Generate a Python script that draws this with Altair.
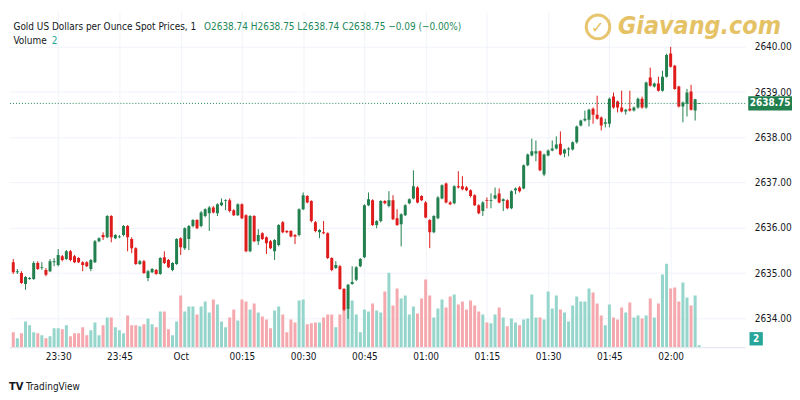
import altair as alt
import pandas as pd

# ---------------- data (1-minute candles, first candle 23:19) ----------------
start_hour, start_min = 23, 19

opens = [
    2635.24, 2635.02, 2635.00, 2634.76, 2634.87, 2634.87, 2635.22, 2635.11, 2635.07, 2635.04,
    2635.24, 2635.18, 2635.37, 2635.31, 2635.48, 2635.37, 2635.33, 2635.24, 2635.24, 2635.09,
    2635.24, 2635.70, 2635.84, 2635.79, 2636.26, 2635.77, 2635.79, 2635.84, 2636.04, 2635.75,
    2635.55, 2635.20, 2635.26, 2634.89, 2635.02, 2635.07, 2634.98, 2635.35, 2635.29, 2635.07,
    2635.20, 2635.77, 2635.55, 2635.75, 2636.04, 2636.17, 2636.04, 2636.26, 2636.32, 2636.45,
    2636.32, 2636.50, 2636.59, 2636.61, 2636.39, 2636.28, 2636.52, 2636.28, 2635.48, 2636.26,
    2635.70, 2635.88, 2635.79, 2635.70, 2635.48, 2635.62, 2636.12, 2635.93, 2635.93, 2635.84,
    2635.84, 2636.41, 2636.70, 2636.59, 2636.12, 2635.90, 2635.90, 2635.88, 2635.33, 2635.11,
    2635.15, 2634.65, 2634.21, 2634.76, 2634.85, 2635.15, 2635.35, 2636.50, 2636.61, 2636.06,
    2636.15, 2636.59, 2636.48, 2636.61, 2636.21, 2636.08, 2636.28, 2636.54, 2636.65, 2636.89,
    2636.70, 2636.56, 2636.17, 2635.90, 2636.21, 2636.65, 2636.98, 2636.56, 2636.54, 2636.92,
    2636.92, 2636.89, 2636.83, 2636.72, 2636.50, 2636.37, 2636.61, 2636.59, 2636.65, 2636.76,
    2636.59, 2636.61, 2636.43, 2636.83, 2636.89, 2636.87, 2637.38, 2637.60, 2637.64, 2637.69,
    2637.18, 2637.60, 2637.71, 2637.75, 2637.86, 2637.64, 2637.73, 2637.73, 2637.89, 2638.26,
    2638.37, 2638.39, 2638.63, 2638.50, 2638.44, 2638.30, 2638.30, 2638.90, 2638.79, 2638.66,
    2638.57, 2638.63, 2638.59, 2638.66, 2638.85, 2638.66, 2639.32, 2639.12, 2639.19, 2639.03,
    2639.34, 2639.85, 2639.58, 2639.12, 2638.68, 2638.74, 2639.01, 2638.59, 2638.74,
]
highs = [
    2635.31, 2635.09, 2635.04, 2634.93, 2634.91, 2635.26, 2635.26, 2635.24, 2635.11, 2635.31,
    2635.33, 2635.53, 2635.40, 2635.51, 2635.51, 2635.40, 2635.35, 2635.26, 2635.26, 2635.31,
    2635.73, 2635.79, 2635.90, 2636.28, 2636.28, 2635.86, 2635.84, 2636.06, 2636.06, 2635.79,
    2635.57, 2635.29, 2635.29, 2635.07, 2635.11, 2635.09, 2635.35, 2635.48, 2635.31, 2635.24,
    2635.77, 2635.79, 2636.01, 2636.06, 2636.19, 2636.19, 2636.37, 2636.43, 2636.48, 2636.48,
    2636.54, 2636.65, 2636.63, 2636.65, 2636.41, 2636.54, 2636.54, 2636.30, 2636.28, 2636.28,
    2635.97, 2635.90, 2635.81, 2635.73, 2635.75, 2636.08, 2636.15, 2635.95, 2635.95, 2635.86,
    2636.43, 2636.78, 2636.72, 2636.61, 2636.15, 2635.97, 2636.15, 2635.90, 2635.35, 2635.26,
    2635.18, 2634.67, 2634.76, 2635.15, 2635.15, 2635.33, 2636.52, 2636.78, 2636.63, 2636.17,
    2636.61, 2636.61, 2636.81, 2636.72, 2636.41, 2636.32, 2636.52, 2636.65, 2637.27, 2636.92,
    2636.72, 2636.59, 2636.19, 2636.28, 2636.70, 2636.96, 2637.00, 2636.59, 2636.94, 2637.25,
    2637.14, 2636.92, 2636.85, 2636.74, 2636.52, 2636.59, 2636.67, 2636.76, 2636.89, 2636.87,
    2636.65, 2636.63, 2636.83, 2636.89, 2636.92, 2637.40, 2637.64, 2637.97, 2637.93, 2637.71,
    2637.64, 2637.73, 2637.93, 2638.02, 2638.13, 2637.75, 2637.78, 2637.91, 2638.26, 2638.39,
    2638.59, 2638.63, 2638.66, 2638.92, 2638.46, 2638.41, 2638.88, 2638.99, 2638.81, 2639.03,
    2638.63, 2639.03, 2638.68, 2638.88, 2638.90, 2639.23, 2639.54, 2639.21, 2639.34, 2639.47,
    2639.85, 2640.00, 2639.60, 2639.14, 2638.79, 2639.07, 2639.16, 2638.85, 2638.75,
]
lows = [
    2634.98, 2634.98, 2634.76, 2634.63, 2634.85, 2634.85, 2635.07, 2635.07, 2634.93, 2635.02,
    2635.15, 2635.15, 2635.26, 2635.29, 2635.26, 2635.22, 2635.22, 2635.04, 2635.13, 2635.04,
    2635.22, 2635.68, 2635.73, 2635.77, 2635.68, 2635.75, 2635.77, 2635.81, 2635.48, 2635.44,
    2635.18, 2635.18, 2634.98, 2634.82, 2635.00, 2634.96, 2634.96, 2635.20, 2635.11, 2635.04,
    2635.18, 2635.40, 2635.51, 2635.51, 2636.01, 2635.97, 2636.01, 2636.23, 2635.93, 2636.32,
    2636.26, 2636.48, 2636.39, 2636.34, 2636.26, 2636.26, 2636.19, 2635.46, 2635.46, 2635.68,
    2635.62, 2635.73, 2635.42, 2635.53, 2635.29, 2635.59, 2635.88, 2635.88, 2635.79, 2635.64,
    2635.81, 2636.39, 2636.54, 2636.12, 2635.90, 2635.77, 2635.86, 2635.31, 2635.04, 2635.09,
    2634.63, 2634.16, 2633.99, 2634.74, 2634.82, 2635.13, 2635.33, 2636.48, 2636.04, 2635.99,
    2636.12, 2636.52, 2636.45, 2636.17, 2636.04, 2635.59, 2636.26, 2636.52, 2636.63, 2636.54,
    2636.59, 2636.21, 2635.55, 2635.88, 2636.19, 2636.63, 2636.54, 2636.50, 2636.52, 2636.87,
    2636.83, 2636.81, 2636.67, 2636.48, 2636.30, 2636.26, 2636.43, 2636.43, 2636.63, 2636.54,
    2636.37, 2636.41, 2636.41, 2636.74, 2636.78, 2636.85, 2637.36, 2637.58, 2637.47, 2637.25,
    2637.14, 2637.58, 2637.69, 2637.73, 2637.60, 2637.56, 2637.58, 2637.71, 2637.86, 2638.24,
    2638.35, 2638.24, 2638.30, 2638.39, 2638.15, 2638.22, 2638.22, 2638.63, 2638.55, 2638.55,
    2638.50, 2638.57, 2638.57, 2638.63, 2638.63, 2638.63, 2639.12, 2639.10, 2639.01, 2639.01,
    2639.32, 2639.54, 2639.05, 2638.66, 2638.33, 2638.46, 2638.59, 2638.37, 2638.74,
]
closes = [
    2635.02, 2635.04, 2634.78, 2634.91, 2634.89, 2635.22, 2635.09, 2635.13, 2634.96, 2635.26,
    2635.26, 2635.40, 2635.29, 2635.48, 2635.29, 2635.24, 2635.24, 2635.18, 2635.15, 2635.29,
    2635.70, 2635.77, 2635.79, 2636.26, 2635.79, 2635.84, 2635.81, 2636.04, 2635.79, 2635.55,
    2635.20, 2635.26, 2635.00, 2635.04, 2635.09, 2634.98, 2635.33, 2635.22, 2635.13, 2635.22,
    2635.75, 2635.57, 2635.99, 2636.04, 2636.17, 2635.99, 2636.34, 2636.41, 2636.45, 2636.34,
    2636.52, 2636.56, 2636.61, 2636.37, 2636.28, 2636.52, 2636.21, 2635.48, 2636.26, 2635.70,
    2635.84, 2635.75, 2635.66, 2635.55, 2635.73, 2636.06, 2635.90, 2635.90, 2635.81, 2635.81,
    2636.41, 2636.72, 2636.56, 2636.15, 2635.93, 2635.95, 2635.88, 2635.33, 2635.07, 2635.18,
    2634.65, 2634.19, 2634.74, 2634.80, 2635.13, 2635.31, 2636.50, 2636.63, 2636.06, 2636.15,
    2636.59, 2636.54, 2636.61, 2636.19, 2636.06, 2636.30, 2636.50, 2636.63, 2636.92, 2636.56,
    2636.61, 2636.23, 2635.90, 2636.26, 2636.67, 2636.94, 2636.56, 2636.52, 2636.92, 2636.89,
    2636.85, 2636.83, 2636.70, 2636.50, 2636.32, 2636.56, 2636.59, 2636.61, 2636.72, 2636.56,
    2636.63, 2636.43, 2636.81, 2636.87, 2636.81, 2637.38, 2637.62, 2637.69, 2637.69, 2637.27,
    2637.62, 2637.71, 2637.75, 2637.84, 2637.62, 2637.73, 2637.75, 2637.89, 2638.24, 2638.37,
    2638.41, 2638.61, 2638.50, 2638.41, 2638.26, 2638.33, 2638.85, 2638.66, 2638.66, 2638.57,
    2638.61, 2638.59, 2638.66, 2638.85, 2638.66, 2639.21, 2639.14, 2639.19, 2639.03, 2639.34,
    2639.82, 2639.56, 2639.07, 2638.68, 2638.77, 2638.99, 2638.61, 2638.84, 2638.75,
]
volumes = [
    15, 9, 14, 26, 22, 15, 14, 12, 9, 11, 19, 19, 18, 22, 11, 14, 14, 20, 12, 17,
    25, 12, 22, 30, 30, 20, 17, 14, 32, 22, 22, 21, 23, 29, 23, 20, 36, 36, 18, 12,
    26, 52, 36, 41, 41, 33, 41, 46, 35, 48, 43, 26, 20, 30, 38, 27, 48, 46, 38, 44,
    35, 31, 28, 19, 37, 41, 33, 15, 28, 25, 47, 48, 23, 24, 25, 25, 30, 33, 33, 20,
    33, 38, 40, 47, 33, 15, 38, 36, 44, 37, 35, 56, 75, 42, 59, 49, 52, 33, 41, 34,
    49, 68, 52, 30, 39, 48, 40, 51, 53, 43, 46, 38, 47, 42, 36, 33, 25, 24, 33, 40,
    30, 21, 29, 25, 22, 28, 29, 53, 30, 30, 28, 56, 39, 52, 38, 35, 26, 42, 51, 46,
    46, 59, 55, 44, 32, 22, 43, 30, 28, 40, 35, 45, 30, 32, 29, 32, 49, 30, 44, 73,
    84, 59, 60, 46, 65, 50, 42, 52, 2,
]
tick_labels = ["23:30", "23:45", "Oct", "00:15", "00:30", "00:45", "01:00",
               "01:15", "01:30", "01:45", "02:00"]
price_ticks = [2634, 2635, 2636, 2637, 2638, 2639, 2640]

n = len(opens)
assert len(highs) == n and len(lows) == n and len(closes) == n and len(volumes) == n

# ---------------- styling ----------------
FONT = "DejaVu Sans Condensed, Liberation Sans Narrow, Liberation Sans, sans-serif"
UP, DOWN = "#22804f", "#df1b1b"
VUP, VDOWN = "#95d5cb", "#f5a8ad"
TXT = "#131722"
GRID = "#f0f3fa"
W, H = 740, 337
FS = 10

times = []
for i in range(n):
    m = (start_hour * 60 + start_min + i) % 1440
    times.append(f"{m // 60:02d}:{m % 60:02d}")

df = pd.DataFrame({"i": range(n), "t": times, "o": opens, "h": highs,
                   "l": lows, "c": closes, "v": volumes})
df["up"] = [1 if c >= o else 0 for o, c in zip(opens, closes)]
df["bb"] = df[["o", "c"]].min(axis=1)
df["bt"] = df[["o", "c"]].max(axis=1)
df.loc[df.bt - df.bb < 0.02, "bt"] = df.bb + 0.02

lab_map = {("00:00" if t == "Oct" else t): t for t in tick_labels}
tick_idx = [i for i, t in enumerate(times) if t in lab_map]
label_expr = "".join(f"datum.value == {i} ? '{lab_map[times[i]]}' : " for i in tick_idx) + "''"

x = alt.X("i:Q", scale=alt.Scale(domain=[0.17, 178.05], nice=False, zero=False),
          axis=alt.Axis(values=tick_idx, labelExpr=label_expr, grid=True, gridColor=GRID,
                        ticks=False, domain=True, domainColor="#e0e3eb", labelFont=FONT,
                        labelFontSize=FS, labelColor=TXT, labelPadding=4, title=None,
                        labelFlush=False))
yscale = alt.Scale(domain=[2633.36, 2640.77], nice=False, zero=False)
yaxis = alt.Axis(orient="right", values=price_ticks, format=".2f", grid=True, gridColor=GRID,
                 ticks=False, domain=False, labelPadding=9, labelAlign="left",
                 labelFont=FONT, labelFontSize=FS, labelColor=TXT, title=None)
is_up = alt.datum.up == 1
ccolor = alt.condition(is_up, alt.value(UP), alt.value(DOWN))
vcolor = alt.condition(is_up, alt.value(VUP), alt.value(VDOWN))
vscale = alt.Scale(domain=[0, H])

base = alt.Chart(df)

vol = base.mark_bar(size=3, clip=True).encode(
    x=x, y=alt.Y("v:Q", scale=vscale, axis=None), color=vcolor)

wicks = base.mark_rule(strokeWidth=1, clip=True).encode(
    x=x, y=alt.Y("l:Q", scale=yscale, axis=yaxis), y2="h:Q", color=ccolor)
bodies = base.mark_bar(size=3, clip=True).encode(
    x=x, y=alt.Y("bb:Q", scale=yscale), y2="bt:Q", color=ccolor)

last = df.tail(1)
pline = alt.Chart(last).mark_rule(color=UP, strokeDash=[1, 2], strokeWidth=1).encode(
    y=alt.Y("c:Q", scale=yscale))
tag_shape = "M-1,-0.33L1,-0.33L1,0.33L-1,0.33Z"
tag = alt.Chart(last).mark_point(shape=tag_shape, filled=True, size=1936, opacity=1,
                                 color=UP).encode(
    x=alt.value(765), y=alt.Y("c:Q", scale=yscale))
tag_txt = alt.Chart(last).mark_text(color="white", font=FONT, fontSize=FS,
                                    fontWeight="bold").encode(
    x=alt.value(765), y=alt.Y("c:Q", scale=yscale), text=alt.Text("c:Q", format=".2f"))

price = alt.layer(wicks, bodies, pline, tag, tag_txt)

vtag = alt.Chart(last).mark_point(shape="square", filled=True, size=180, opacity=1,
                                  color="#26a69a").encode(
    x=alt.value(751), y=alt.value(328.5))
vtag_txt = alt.Chart(last).mark_text(color="white", font=FONT, fontSize=FS,
                                     fontWeight="bold").encode(
    x=alt.value(751), y=alt.value(329), text="v:Q")
volume = alt.layer(vol, vtag, vtag_txt)

one = pd.DataFrame({"k": [0]})


def label(txt, px, py, color=TXT, size=FS, weight="normal", style="normal",
          opacity=1.0, font=FONT):
    return alt.Chart(one).mark_text(text=txt, align="left", baseline="middle", font=font,
                                    fontSize=size, fontWeight=weight, fontStyle=style,
                                    color=color, opacity=opacity).encode(
        x=alt.value(px), y=alt.value(py))


o_, h_, l_, c_ = opens[-1], highs[-1], lows[-1], closes[-1]
chg = c_ - closes[-2]
ohlc = (f"O{o_:.2f}  H{h_:.2f}  L{l_:.2f}  C{c_:.2f}  "
        f"\u2212{abs(chg):.2f} (\u2212{abs(chg) / closes[-2] * 100:.2f}%)")

header = alt.layer(
    label("Gold US Dollars per Ounce Spot Prices, 1", 4.5, 15),
    label(ohlc, 196, 15, color="#22885a"),
    label("Volume", 4.5, 29),
    label(f"{volumes[-1]}", 43, 29, color="#26a69a"),
    label("Giavang.com", 612, 14, color="#e2b84c", size=25, weight="bold", style="italic",
          opacity=0.85),
    alt.Chart(one).mark_point(shape="circle", size=560, strokeWidth=3, color="#e2b84c",
                              opacity=0.8).encode(x=alt.value(592), y=alt.value(15)),
    label("\u2713", 585, 16, color="#e2b84c", size=16, weight="bold", opacity=0.85,
          font="DejaVu Sans"),
    label("TV", 0, 377, color=TXT, size=11, weight="bold"),
    label("TradingView", 17, 377, color=TXT, size=FS),
)

chart = alt.layer(volume, price, header).resolve_scale(y="independent").properties(
    width=W, height=H, padding=0
).configure_view(stroke=None)

chart.save("out.html", embed_options={"renderer": "svg", "actions": False})
